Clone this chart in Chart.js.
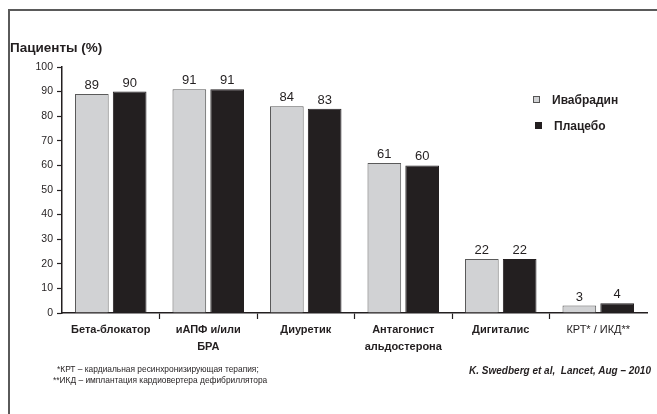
<!DOCTYPE html>
<html lang="ru">
<head>
<meta charset="utf-8">
<title>Пациенты (%)</title>
<script src="https://cdn.jsdelivr.net/npm/chart.js@4.4.1/dist/chart.umd.min.js"></script>
<style>
  html, body { margin: 0; padding: 0; background: #fff; }
  #wrap { position: relative; width: 657px; height: 414px; overflow: hidden; font-family: "Liberation Sans", Arial, sans-serif; color: #231f20; }
  #frame { position: absolute; left: 8px; top: 9px; width: 660px; height: 420px; border-top: 2px solid #5a5a5a; border-left: 2px solid #5a5a5a; }
  canvas { position: absolute; left: 0; top: 0; }
  .title { position: absolute; left: 10px; top: 40px; font-size: 13.5px; font-weight: bold; }
  .legend { position: absolute; left: 533px; font-size: 12px; font-weight: bold; line-height: 14px; }
  .legend span.sw { display: inline-block; width: 7px; height: 7px; margin-right: 12px; vertical-align: 1px; box-sizing: border-box; }
  .note { position: absolute; left: 53px; font-size: 8.4px; line-height: 11px; white-space: nowrap; }
  .cite { position: absolute; right: 6px; top: 365px; font-size: 10px; font-weight: bold; font-style: italic; white-space: nowrap; }
</style>
</head>
<body>
<div id="wrap">
  <canvas id="c" width="657" height="414"></canvas>
  <div id="frame"></div>
  <div class="title">Пациенты (%)</div>
  <div class="legend" style="top:93px"><span class="sw" style="background:#d1d2d4;border:1px solid #555"></span>Ивабрадин</div>
  <div class="legend" style="top:119px;left:535px"><span class="sw" style="background:#231f20"></span>Плацебо</div>
  <div class="note" style="top:364px;left:57px">*КРТ – кардиальная ресинхронизирующая терапия;</div>
  <div class="note" style="top:375px">**ИКД – имплантация кардиовертера дефибриллятора</div>
  <div class="cite">K. Swedberg et al,&nbsp; Lancet, Aug – 2010</div>
</div>
<script>
// Therapy groups on the x axis (multi-line labels as arrays)
const categories = [
  'Бета-блокатор',
  ['иАПФ и/или', 'БРА'],
  'Диуретик',
  ['Антагонист', 'альдостерона'],
  'Дигиталис',
  'КРТ* / ИКД**'
];
// Share of patients receiving each therapy, %
const ivabradine = [89, 91, 84, 61, 22, 3];
const placebo    = [90, 91, 83, 60, 22, 4];
const seriesNames = ['Ивабрадин', 'Плацебо'];
const yTicks = [0, 10, 20, 30, 40, 50, 60, 70, 80, 90, 100];

const ink = '#231f20';

// Writes each bar's value just above its top
const valueLabels = {
  id: 'valueLabels',
  afterDatasetsDraw(chart) {
    const ctx = chart.ctx;
    ctx.save();
    ctx.font = '13px "Liberation Sans", Arial, sans-serif';
    ctx.fillStyle = ink;
    ctx.textAlign = 'center';
    ctx.textBaseline = 'bottom';
    chart.data.datasets.forEach((ds, di) => {
      chart.getDatasetMeta(di).data.forEach((bar, i) => {
        ctx.fillText(String(ds.data[i]), bar.x, bar.y - 2);
      });
    });
    ctx.restore();
  }
};

// Tick marks only between groups, none at the two ends of the axis
const betweenGroups = (c) =>
  (c.type !== 'tick' || c.index === 0 || c.index >= categories.length) ? 'rgba(0,0,0,0)' : ink;

new Chart(document.getElementById('c'), {
  type: 'bar',
  data: {
    labels: categories,
    datasets: [
      {
        label: seriesNames[0],
        data: ivabradine,
        backgroundColor: '#d1d2d4',
        borderColor: '#5a5a5a',
        borderWidth: 1,
        categoryPercentage: 0.776,
        barPercentage: 0.89
      },
      {
        label: seriesNames[1],
        data: placebo,
        backgroundColor: ink,
        borderColor: ink,
        borderWidth: 1,
        categoryPercentage: 0.776,
        barPercentage: 0.89
      }
    ]
  },
  options: {
    responsive: false,
    animation: false,
    devicePixelRatio: 1,
    layout: { padding: { left: 32, right: 10, top: 67, bottom: 41 } },
    plugins: {
      legend: { display: false },
      tooltip: { enabled: false }
    },
    scales: {
      x: {
        offset: true,
        afterFit(scale) { scale.height = 60; },
        border: { display: true, color: ink, width: 1.5 },
        grid: {
          offset: true,
          drawOnChartArea: false,
          drawTicks: true,
          tickLength: 6,
          tickWidth: 1.2,
          color: betweenGroups
        },
        ticks: {
          color: ink,
          padding: 2,
          maxRotation: 0,
          autoSkip: false,
          font: (c) => c.index === categories.length - 1
            ? { family: '"Liberation Sans", Arial, sans-serif', size: 11, weight: 'normal', lineHeight: 1.55 }
            : { family: '"Liberation Sans", Arial, sans-serif', size: 11, weight: 'bold', lineHeight: 1.55 }
        }
      },
      y: {
        min: 0,
        max: 100,
        afterFit(scale) { scale.width = 30; },
        afterBuildTicks(scale) { scale.ticks = yTicks.map(v => ({ value: v })); },
        border: { display: true, color: ink, width: 1.5 },
        grid: {
          drawOnChartArea: false,
          drawTicks: true,
          tickLength: 5,
          tickWidth: 1.2,
          color: ink
        },
        ticks: {
          color: ink,
          padding: 4,
          font: { family: '"Liberation Sans", Arial, sans-serif', size: 10.5 }
        }
      }
    }
  },
  plugins: [valueLabels]
});
</script>
</body>
</html>
